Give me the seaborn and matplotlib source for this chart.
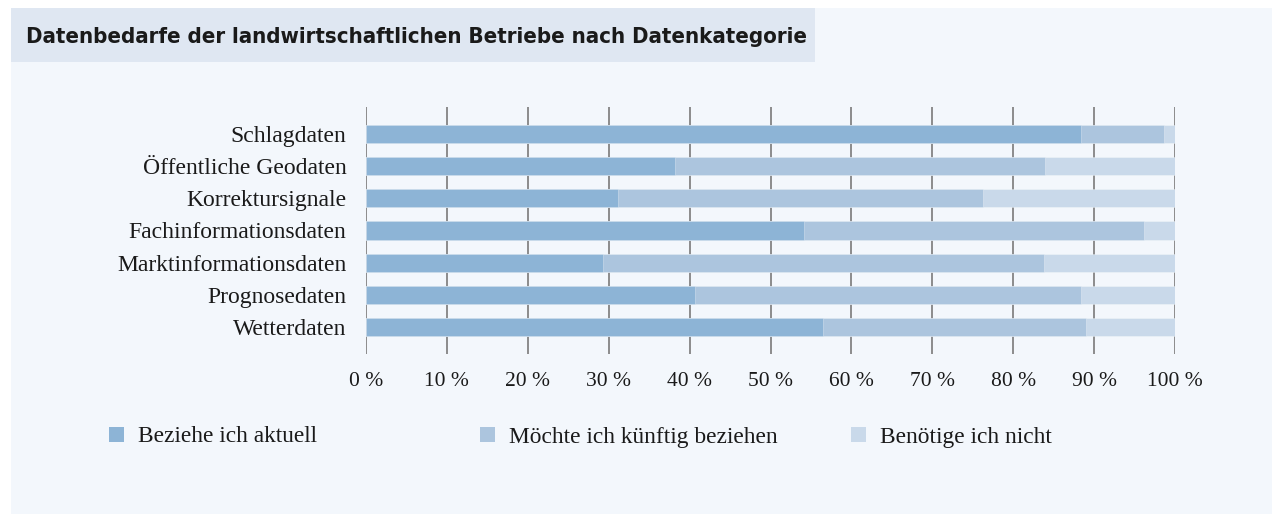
import matplotlib
matplotlib.use("Agg")
import matplotlib.pyplot as plt
import matplotlib.patches as mpatches
import seaborn as sns
import pandas as pd
import numpy as np

categories = ["Schlagdaten", "Öffentliche Geodaten", "Korrektursignale",
              "Fachinformationsdaten", "Marktinformationsdaten", "Prognosedaten", "Wetterdaten"]
aktuell = [88.4, 38.2, 31.2, 54.1, 29.3, 40.7, 56.5]
kuenftig = [10.2, 45.7, 45.1, 42.1, 54.5, 47.7, 32.5]
nicht = [1.4, 16.1, 23.7, 3.8, 16.2, 11.6, 11.0]
series_names = ["Beziehe ich aktuell", "Möchte ich künftig beziehen", "Benötige ich nicht"]
xticks = [0, 10, 20, 30, 40, 50, 60, 70, 80, 90, 100]
title = "Datenbedarfe der landwirtschaftlichen Betriebe nach Datenkategorie"

colors = ["#8db4d6", "#acc5de", "#c9d9ea"]
panel_bg = "#f3f7fc"
title_bg = "#dfe7f2"

sns.set_theme(style="white")
plt.rcParams["font.family"] = ["Liberation Serif", "DejaVu Serif"]

W, H = 1272, 514
fig = plt.figure(figsize=(W / 100, H / 100), dpi=100, facecolor="white")

def fx(px):
    return px / W

def fy(py):
    return 1 - py / H

# panel background
fig.patches.append(mpatches.Rectangle((fx(11), 0), 1 - fx(11), fy(8), transform=fig.transFigure,
                                      facecolor=panel_bg, edgecolor="none", zorder=-10))
# title box
fig.patches.append(mpatches.Rectangle((fx(11), fy(62)), fx(815) - fx(11), fy(8) - fy(62),
                                      transform=fig.transFigure, facecolor=title_bg,
                                      edgecolor="none", zorder=-9))
fig.text(fx(26), fy(37), title, ha="left", va="center", fontsize=15.9, fontweight="bold",
         fontstretch="condensed", color="#1a1a1a", family=["DejaVu Sans"])

ax = fig.add_axes([fx(366), fy(354), fx(1175) - fx(366), fy(107) - fy(354)])
ax.set_facecolor("none")

df = pd.DataFrame({"cat": categories, "a": aktuell, "k": kuenftig, "n": nicht})
df["c1"] = df["a"]
df["c2"] = df["a"] + df["k"]
df["c3"] = df["a"] + df["k"] + df["n"]

for col, color, name in zip(["c3", "c2", "c1"], colors[::-1], series_names[::-1]):
    sns.barplot(data=df, x=col, y="cat", orient="h", color=color, saturation=1, width=0.57,
                edgecolor=(1, 1, 1, 0.35), linewidth=0.6, ax=ax, label=name, zorder=3)

ax.set_xlim(0, 100)
ax.set_ylim(6.839, -0.839)
ax.set_xticks(xticks)
ax.set_xticklabels([f"{t} %" for t in xticks])
ax.set_xlabel("")
ax.set_ylabel("")
for s in ax.spines.values():
    s.set_visible(False)
ax.grid(axis="x", color="#7a7a7a", linewidth=1.2, zorder=0)
ax.grid(axis="y", visible=False)
ax.tick_params(axis="x", length=0, pad=13, labelsize=15.5, colors="#1a1a1a")
ax.tick_params(axis="y", length=0, pad=14, labelsize=17, colors="#1a1a1a")
if ax.get_legend():
    ax.get_legend().remove()

handles = [mpatches.Patch(facecolor=c, edgecolor="none") for c in colors]
for h, name, xpos in zip(handles, series_names, [109, 480, 851]):
    fig.legend([h], [name], loc="center left", bbox_to_anchor=(fx(xpos), fy(437)),
               frameon=False, fontsize=16.8, handlelength=0.64, handleheight=0.64,
               handletextpad=0.6, borderpad=0, borderaxespad=0, labelcolor="#1a1a1a")

fig.savefig("out.png", dpi=100, facecolor="white")
